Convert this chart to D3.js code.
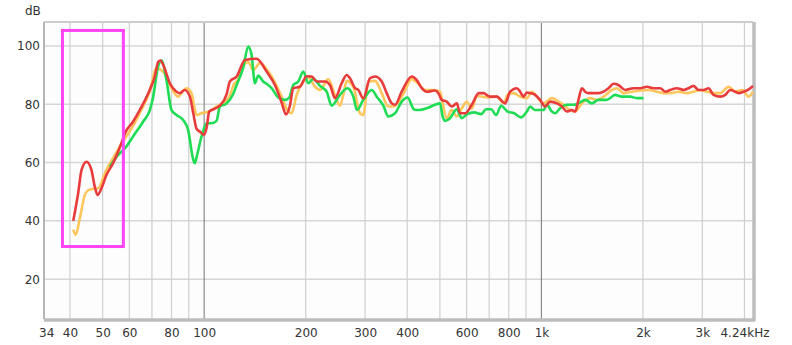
<!DOCTYPE html>
<html>
<head>
<meta charset="utf-8">
<script src="https://cdn.jsdelivr.net/npm/d3@7"></script>
<style>
  body { margin: 0; background: #fff; }
  svg text { font-family: "DejaVu Sans", sans-serif; font-size: 12px; fill: #333; }
</style>
</head>
<body>
<div id="chart"></div>
<script>
// frequency response, [Hz, dB]
var redSeries = [[40.9,40],[42.3,49.5],[43.3,57.5],[44.8,60.3],[46.3,57.5],[47.4,51.7],[48.3,48.9],[49.6,51.2],[51.3,55.7],[53.7,59.8],[56.9,66.8],[58.2,70],[61.5,74],[64.4,78],[69,85],[71.4,89.5],[73,94.5],[74.2,95],[75.6,93.5],[79.1,87.2],[82.8,84.3],[84.7,83.8],[87.6,84.9],[90.7,82.6],[92.8,77],[95,71.5],[97.1,70.6],[100,69.5],[101.7,72],[103.5,77.5],[107.6,78.5],[111.3,79.5],[116.6,83.5],[119.2,87.8],[124.8,89.5],[132.1,95.2],[143,95.6],[153.2,91.2],[162.1,86.6],[169.7,80.6],[174.8,76.5],[179.6,79.5],[183.7,85.5],[192.3,86],[201.4,89.6],[208.3,89.5],[215.6,87.8],[228.1,87.8],[236,86.6],[244.3,82.1],[255.7,87.2],[264.6,90],[270.6,88.9],[280.1,85.5],[286.4,84.9],[296.4,82],[310.2,88.9],[321.2,89.5],[336.1,87.8],[347.8,83.8],[359.8,80.3],[368.1,79.8],[385.2,84.3],[412.6,89.5],[426.9,88.3],[441.8,85.5],[457,84.3],[483.7,84.7],[494.8,83.8],[506.3,81.5],[524,80.9],[542.2,79.2],[561.1,80.3],[573.8,76.9],[593.8,76.9],[621.5,79.8],[652.5,83.8],[672.9,83.8],[704.4,82.6],[737.4,82.6],[780.4,80.3],[807.5,84.3],[845.3,85.5],[864.9,84.3],[884.5,82.6],[905.2,84],[925.8,83.8],[957.9,83.2],[991,81.5],[1026,79.2],[1061,80.9],[1111,80.3],[1150,79.2],[1190,77.5],[1231,78],[1259,77.5],[1288,81.5],[1318,85.5],[1348,84.3],[1379,83.8],[1476,83.8],[1528,84.3],[1581,85.5],[1636,87],[1692,86.6],[1772,84.9],[1875,85.5],[1963,85.5],[2055,86],[2149,85.5],[2250,85.5],[2329,84.3],[2409,84.9],[2522,85.5],[2639,84.9],[2731,85.5],[2825,86.3],[2924,84.9],[3025,84.9],[3130,85.5],[3239,83.2],[3391,82.6],[3509,83.2],[3630,84.9],[3756,84.3],[3842,83.8],[3977,84.3],[4163,85.5],[4240,86.3]];

var orangeSeries = [[40.9,37],[41.6,35.2],[42.8,41],[44.3,49],[45.3,50.5],[46.8,51],[48.5,51.2],[50.1,54.5],[51.3,57.5],[53.7,61.5],[56.9,66.5],[58.8,69],[61.5,72.5],[64.4,77],[69,84.5],[72.2,92.3],[75.6,91.2],[78,88],[80.9,84.5],[83.7,82.6],[86.5,84.5],[88.7,85.5],[91.7,83.8],[93.5,79],[95,76.3],[98.2,76.9],[103.5,77.5],[108.8,79.2],[114,80.5],[119.2,83],[121.9,86.3],[126.1,88.5],[130.5,93],[135.1,94.5],[139.8,91.7],[146.3,94.1],[154.9,91.2],[162.1,87.5],[169.7,82.6],[176.3,78],[181.7,76.9],[188,83.2],[196.7,87.8],[203.6,89.2],[213.1,86],[220.5,84.9],[233.3,88.6],[244.3,83],[252.7,79.5],[258.5,83.2],[264.6,88],[276.8,86],[289.7,76.9],[296.4,76.3],[306.6,87.8],[321.2,88],[336.1,83.8],[351.6,79.2],[363.8,79.2],[389.4,83.5],[412.6,88.6],[431.5,87],[451.8,84.9],[478.2,84.9],[500.5,84.3],[506.3,82],[524,75.2],[542.2,78],[561.1,75.8],[580.5,78.6],[600.6,80.8],[621.5,78.5],[643.3,82.8],[696.3,82.3],[737.4,82.6],[771.3,80.5],[798,83.5],[826,83.8],[864.9,82.6],[905.2,82.1],[936.4,84.3],[969,82.6],[1014,80.3],[1074,82.1],[1123,80.9],[1163,79.8],[1217,78],[1259,77.5],[1318,80.3],[1395,82.1],[1460,81.5],[1528,82.6],[1618,84.9],[1674,85.5],[1751,83.8],[1854,84.3],[1963,84.7],[2077,84.9],[2199,84.3],[2301,83.8],[2409,83.8],[2550,84.3],[2701,83.8],[2825,84.3],[2957,84.9],[3096,84.3],[3239,83.8],[3391,83.8],[3589,86],[3756,84.3],[3941,84.9],[4114,82.6],[4240,84.3]];

var greenSeries = [[52.5,58.6],[55,62],[58.8,65.5],[61.5,68.9],[65.9,74],[69,78],[70.6,82.6],[73,92.9],[74.7,95],[77.3,88.3],[80,78],[82.8,76.3],[86.6,74.6],[89.6,71.2],[92.8,61],[93.8,59.8],[95,62],[98.2,68.9],[101.7,73.5],[105.2,73.5],[108.8,74.3],[111.3,79.2],[116.6,80.3],[121.9,83.5],[124.8,86.6],[130.5,92.5],[135.1,99.8],[138.2,96.9],[141.4,87.2],[144.6,89.8],[149.6,87.8],[153.2,87],[158.5,85.5],[165.8,82.3],[173.6,81.5],[178.8,82.3],[183.7,86.6],[190.1,87.8],[196.7,91.2],[203.6,87.2],[210.6,88.7],[220.5,86.3],[230.8,84.3],[238.8,79.5],[252.7,83.2],[266,85.5],[276.8,82.6],[283.9,78],[296.4,81.5],[313.9,84.9],[324.8,82.6],[339.9,79.5],[351.6,75.8],[368.1,76.9],[385.2,80.9],[400.9,82.3],[419.2,78.2],[433.7,78],[461.2,78.8],[483.7,79.8],[500.5,80.3],[509,76],[518,74.3],[535.9,75.2],[561.1,78.3],[580.5,75.2],[600.6,76.5],[631.6,77.2],[662.4,76.6],[685.6,78.3],[709.2,78.3],[733.8,76.3],[759.5,79.5],[793.6,77.5],[829.8,76.9],[870.9,75.5],[905.2,77.5],[925.8,79.2],[957.9,78],[1014,78],[1038,79.8],[1074,77.5],[1098,76.9],[1136,78.6],[1190,79.8],[1245,79.8],[1288,80.3],[1348,81.5],[1411,80.3],[1476,81.5],[1564,81.5],[1654,83.2],[1732,82.6],[1833,82.6],[1919,82.1],[2008,82.1]];

var xTickValues = [34, 40, 50, 60, 80, 100, 200, 300, 400, 600, 800, 1000, 2000, 3000, 4000];
var xTickLabels = ["34", "40", "50", "60", "80", "100", "200", "300", "400", "600", "800", "1k", "2k", "3k", "4.24kHz"];
var xGridMinor = [40, 50, 60, 70, 80, 90, 200, 300, 400, 500, 600, 700, 800, 900, 2000, 3000, 4000];
var xGridMajor = [100, 1000];
var yTickValues = [20, 40, 60, 80, 100];
var highlightHz = [38, 57.6];
var highlightDb = [31.2, 105.3];

var width = 792, height = 345;
var margin = { top: 22, right: 39, bottom: 26, left: 44 };

var svg = d3.select("#chart").append("svg")
    .attr("width", width)
    .attr("height", height);

var x = d3.scaleLog()
    .domain([33.5, 4240])
    .range([margin.left, width - margin.right]);

var y = d3.scaleLinear()
    .domain([6.35, 108.2])
    .range([height - margin.bottom, margin.top]);

var x0 = x.range()[0], x1 = x.range()[1];
var y0 = y.range()[1], y1 = y.range()[0];

svg.append("rect")
    .attr("x", x0).attr("y", y0)
    .attr("width", x1 - x0).attr("height", y1 - y0)
    .attr("fill", "#fdfdfd");

// grid
svg.selectAll(".hgrid")
    .data(yTickValues)
    .enter().append("line")
    .attr("x1", x0).attr("x2", x1)
    .attr("y1", function (d) { return y(d); })
    .attr("y2", function (d) { return y(d); })
    .attr("stroke", "#d6d6d6")
    .attr("stroke-width", 1.5);

svg.selectAll(".vgrid")
    .data(xGridMinor)
    .enter().append("line")
    .attr("x1", function (d) { return x(d); })
    .attr("x2", function (d) { return x(d); })
    .attr("y1", y0).attr("y2", y1)
    .attr("stroke", "#cfcfcf")
    .attr("stroke-width", 1.2);

svg.selectAll(".vgridMajor")
    .data(xGridMajor)
    .enter().append("line")
    .attr("x1", function (d) { return x(d); })
    .attr("x2", function (d) { return x(d); })
    .attr("y1", y0).attr("y2", y1)
    .attr("stroke", "#8a8a8a")
    .attr("stroke-width", 1.2);

// frame with a soft shadow on bottom / right
svg.append("line").attr("x1", x0).attr("x2", x1).attr("y1", y0).attr("y2", y0)
    .attr("stroke", "#cdcdcd").attr("stroke-width", 2);
svg.append("line").attr("x1", x0).attr("x2", x0).attr("y1", y0).attr("y2", y1)
    .attr("stroke", "#b5b5b5").attr("stroke-width", 2);
svg.append("line").attr("x1", x0).attr("x2", x1 + 2).attr("y1", y1 + 1).attr("y2", y1 + 1)
    .attr("stroke", "#bdbdbd").attr("stroke-width", 3.5);
svg.append("line").attr("x1", x1 + 1).attr("x2", x1 + 1).attr("y1", y0).attr("y2", y1 + 2)
    .attr("stroke", "#bdbdbd").attr("stroke-width", 3.5);

// axes
var xAxis = svg.append("g")
    .attr("transform", "translate(0," + (y1 + 3) + ")")
    .call(d3.axisBottom(x)
        .tickValues(xTickValues)
        .tickSize(0)
        .tickPadding(6)
        .tickFormat(function (d, i) { return xTickLabels[i]; }));
xAxis.select(".domain").remove();
xAxis.selectAll("text").style("font-size", "12px").attr("fill", "#333");

var yAxis = svg.append("g")
    .attr("transform", "translate(" + (x0 - 4) + ",0)")
    .call(d3.axisLeft(y).tickValues(yTickValues).tickSize(0).tickPadding(0));
yAxis.select(".domain").remove();
yAxis.selectAll("text").style("font-size", "12px").attr("fill", "#333");

svg.append("text")
    .attr("x", 25).attr("y", 15)
    .text("dB");

// curves
var line = d3.line()
    .x(function (d) { return x(d[0]); })
    .y(function (d) { return y(d[1]); })
    .curve(d3.curveMonotoneX);

var plot = svg.append("g");
plot.append("path").datum(orangeSeries)
    .attr("d", line).attr("fill", "none")
    .attr("stroke", "#ffc65c").attr("stroke-width", 2.6).attr("stroke-linejoin", "round");
plot.append("path").datum(greenSeries)
    .attr("d", line).attr("fill", "none")
    .attr("stroke", "#1fdc55").attr("stroke-width", 2.6).attr("stroke-linejoin", "round");
plot.append("path").datum(redSeries)
    .attr("d", line).attr("fill", "none")
    .attr("stroke", "#e83c3c").attr("stroke-width", 2.6).attr("stroke-linejoin", "round");

// highlight box
svg.append("rect")
    .attr("x", x(highlightHz[0]))
    .attr("y", y(highlightDb[1]))
    .attr("width", x(highlightHz[1]) - x(highlightHz[0]))
    .attr("height", y(highlightDb[0]) - y(highlightDb[1]))
    .attr("fill", "none")
    .attr("stroke", "#ff44f4")
    .attr("stroke-width", 3);
</script>
</body>
</html>
